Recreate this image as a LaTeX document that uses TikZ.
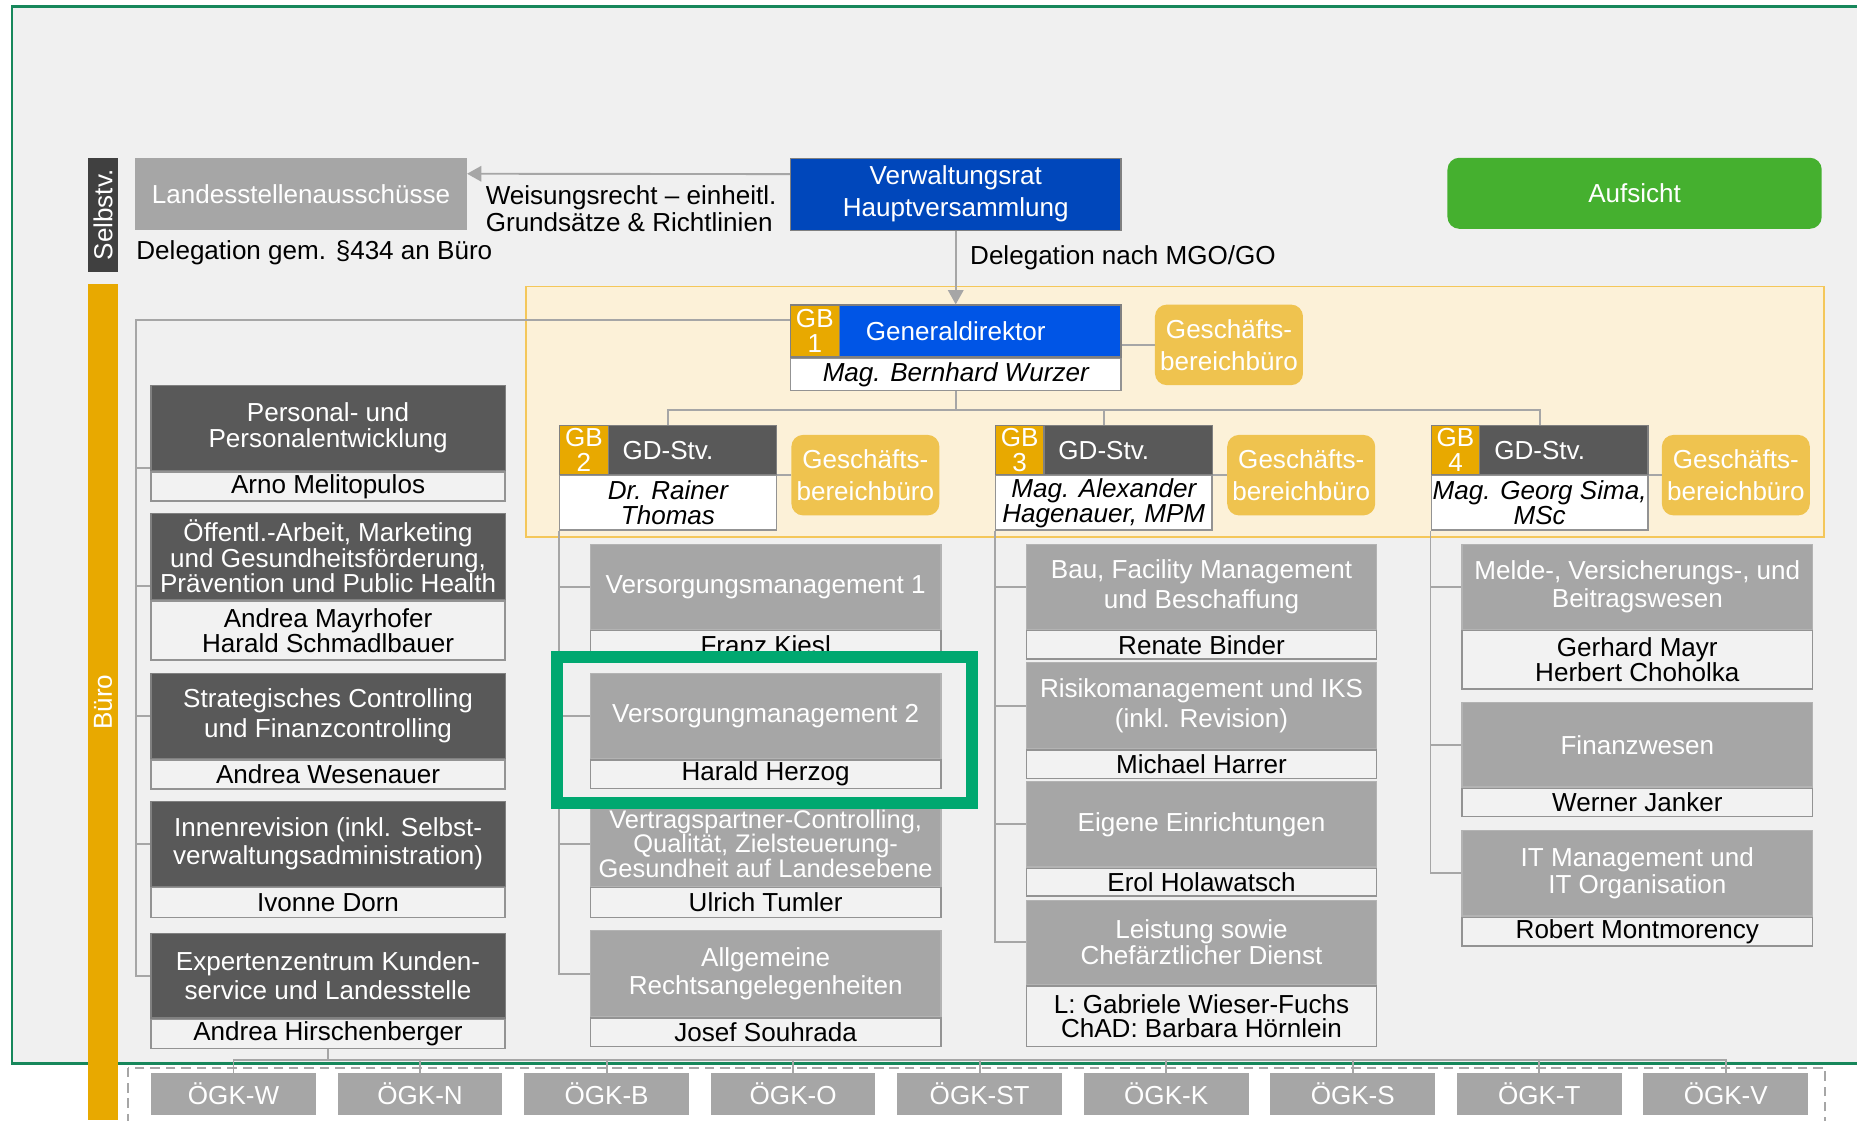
\documentclass[tikz,border=0pt]{standalone}
\usepackage{fontspec}
\setmainfont{Liberation Sans}
\usetikzlibrary{arrows.meta}

\definecolor{bgray}{HTML}{F0F0F0}
\definecolor{framegreen}{HTML}{17875B}
\definecolor{darkbox}{HTML}{595959}
\definecolor{midbox}{HTML}{A6A6A6}
\definecolor{namefill}{HTML}{F2F2F2}
\definecolor{linegray}{HTML}{A6A6A6}
\definecolor{vrblue}{HTML}{0047BB}
\definecolor{gdblue}{HTML}{0055E6}
\definecolor{gborange}{HTML}{E8A900}
\definecolor{gbbyellow}{HTML}{EFC34F}
\definecolor{regionfill}{HTML}{FCF1D8}
\definecolor{regionline}{HTML}{F4C75A}
\definecolor{aufgreen}{HTML}{45B02F}
\definecolor{hlgreen}{HTML}{00A870}
\definecolor{selbgray}{HTML}{404040}

\newcommand{\setlead}[1]{\fontsize{22}{#1}\selectfont}

\begin{document}
\begin{tikzpicture}
    [%%%%%%%%%%%%%%%%%%%%%%%%%%%%%%
        x=1pt, y=-1pt,
        font=\setlead{23},
        conn/.style={draw=linegray, line width=1.6pt},
        arr/.style={conn, -{Triangle[length=12pt,width=13pt]}},
        box/.style={rectangle, anchor=north west, inner sep=0pt, align=center},
        head/.style={box, fill=darkbox, draw=gray, line width=1pt, text=white, minimum width=299pt, minimum height=72pt},
        sub/.style={box, fill=midbox, draw=midbox!85!white, line width=1pt, text=white, minimum width=296pt, minimum height=72pt},
        who/.style={box, anchor=north, fill=namefill, draw=gray!85, line width=1.2pt, minimum width=#1},
        gbsq/.style={box, fill=gborange, draw=gray, line width=1pt, text=white, minimum width=41pt, minimum height=41pt, font=\setlead{21}},
        gbhead/.style={box, fill=darkbox, draw=gray, line width=1pt, text=white, minimum width=183pt, minimum height=41pt},
        gbb/.style={box, fill=gbbyellow, rounded corners=10pt, text=white, minimum width=125pt, minimum height=68pt, font=\setlead{27}},
        oegk/.style={box, fill=midbox, text=white, minimum width=139pt, minimum height=35pt},
    ]%%%%%%%%%%%%%%%%%%%%%%%%%%%%%%
\useasboundingbox (0,0) rectangle (1568,946);
\clip (0,0) rectangle (1568,946);
\fill[white] (0,0) rectangle (1568,946);
\draw[fill=bgray, draw=framegreen, line width=2pt] (10,5.5) rectangle (1600,898);
\draw[fill=regionfill, draw=regionline, line width=1.2pt] (444,242) rectangle (1540,453.5);

% Selbstverwaltung und Buero
\node[fill=selbgray, rotate=90, text=white, inner sep=0pt, minimum width=97pt, minimum height=26pt] (selb) at (87,181.5) {Selbstv.};
\node[fill=gborange, rotate=90, text=white, inner sep=0pt, minimum width=706pt, minimum height=26pt] (buero) at (87,593) {Büro};

% top level
\node[box, fill=midbox, text=white, minimum width=280pt, minimum height=61pt] (lsa) at (114,133) {Landesstellenausschüsse};
\node[box, fill=vrblue, draw=gray, line width=1pt, text=white, minimum width=279pt, minimum height=61pt, font=\setlead{27}] (vr) at (667,133) {Verwaltungsrat\\Hauptversammlung};
\node[box, fill=aufgreen, rounded corners=10pt, text=white, minimum width=316pt, minimum height=60pt] (aufs) at (1222,133) {Aufsicht};
\node[anchor=west, inner sep=0pt, align=left] (weis) at (410,176.5) {Weisungsrecht – einheitl.\\Grundsätze \& Richtlinien};
\node[anchor=west, inner sep=0pt] (deleg) at (115,213) {Delegation gem. §434 an Büro};
\node[anchor=west, inner sep=0pt] (mgo) at (819,218) {Delegation nach MGO/GO};

% Generaldirektor
\node[box, fill=gdblue, draw=gray, line width=1pt, text=white, minimum width=279pt, minimum height=44pt] (gd) at (667,257) {Generaldirektor};
\node[gbsq, minimum height=44pt] (gb1) at (667,257) {GB\\1};
\node[who=279pt, fill=white, minimum height=27pt, font=\setlead{23}\itshape] (gd-n) at (gd.south) {Mag. Bernhard Wurzer};
\node[gbb] (gbb1) at (975,257) {Geschäfts-\\bereichbüro};

% GD-Stv.
\node[gbhead] (gb2) at (472,359) {GD-Stv.};
\node[gbsq] (gb2-sq) at (472,359) {GB\\2};
\node[who=183pt, fill=white, minimum height=46pt, font=\setlead{21}\itshape] (gb2-n) at (gb2.south) {Dr. Rainer\\Thomas};
\node[gbb] (gbb2) at (668,367) {Geschäfts-\\bereichbüro};

\node[gbhead] (gb3) at (840,359) {GD-Stv.};
\node[gbsq] (gb3-sq) at (840,359) {GB\\3};
\node[who=183pt, fill=white, minimum height=46pt, font=\setlead{21}\itshape] (gb3-n) at (gb3.south) {Mag. Alexander\\Hagenauer, MPM};
\node[gbb] (gbb3) at (1036,367) {Geschäfts-\\bereichbüro};

\node[gbhead] (gb4) at (1208,359) {GD-Stv.};
\node[gbsq] (gb4-sq) at (1208,359) {GB\\4};
\node[who=183pt, fill=white, minimum height=46pt, font=\setlead{21}\itshape] (gb4-n) at (gb4.south) {Mag. Georg Sima,\\MSc};
\node[gbb] (gbb4) at (1403,367) {Geschäfts-\\bereichbüro};

% Stabsstellen Buero
\node[head, font=\setlead{22}] (pers) at (127,325) {Personal- und\\Personalentwicklung};
\node[who=299pt, minimum height=24.5pt] (pers-n) at (pers.south) {Arno Melitopulos};
\node[head, minimum height=73pt, font=\setlead{20.5}] (oeff) at (127,433) {Öffentl.-Arbeit, Marketing\\und Gesundheitsförderung,\\Prävention und Public Health};
\node[who=299pt, minimum height=49.5pt, font=\setlead{20}] (oeff-n) at (oeff.south) {Andrea Mayrhofer\\Harald Schmadlbauer};
\node[head, font=\setlead{25}] (strat) at (127,568) {Strategisches Controlling\\und Finanzcontrolling};
\node[who=299pt, minimum height=24.5pt] (strat-n) at (strat.south) {Andrea Wesenauer};
\node[head, font=\setlead{24}] (innen) at (127,676) {Innenrevision (inkl. Selbst-\\verwaltungsadministration)};
\node[who=299pt, minimum height=25pt] (innen-n) at (innen.south) {Ivonne Dorn};
\node[head, minimum height=71pt, font=\setlead{24}] (exp) at (127,788) {Expertenzentrum Kunden-\\service und Landesstelle};
\node[who=299pt, minimum height=24.5pt] (exp-n) at (exp.south) {Andrea Hirschenberger};

% GB 2
\node[sub] (vm1) at (498,459) {Versorgungsmanagement 1};
\node[who=296pt, minimum height=24pt] (vm1-n) at (vm1.south) {Franz Kiesl};
\node[sub] (vm2) at (498,568) {Versorgungmanagement 2};
\node[who=296pt, minimum height=24pt] (vm2-n) at (vm2.south) {Harald Herzog};
\node[sub, font=\fontsize{21.5}{20.5}\selectfont] (vtr) at (498,676) {Vertragspartner-Controlling,\\Qualität, Zielsteuerung-\\Gesundheit auf Landesebene};
\node[who=296pt, minimum height=25pt] (vtr-n) at (vtr.south) {Ulrich Tumler};
\node[sub, minimum height=72.5pt] (allg) at (498,785.5) {Allgemeine\\Rechtsangelegenheiten};
\node[who=296pt, minimum height=24pt] (allg-n) at (allg.south) {Josef Souhrada};

% GB 3
\node[sub, font=\setlead{25}] (bau) at (866,459) {Bau, Facility Management\\und Beschaffung};
\node[who=296pt, minimum height=24pt] (bau-n) at (bau.south) {Renate Binder};
\node[sub, minimum height=72.5pt, font=\setlead{25}] (risk) at (866,559) {Risikomanagement und IKS\\(inkl. Revision)};
\node[who=296pt, minimum height=24pt] (risk-n) at (risk.south) {Michael Harrer};
\node[sub] (eig) at (866,659.5) {Eigene Einrichtungen};
\node[who=296pt, minimum height=23.5pt] (eig-n) at (eig.south) {Erol Holawatsch};
\node[sub, minimum height=71.5pt, font=\setlead{22}] (leist) at (866,759.5) {Leistung sowie\\Chefärztlicher Dienst};
\node[who=296pt, minimum height=51pt, font=\setlead{20}] (leist-n) at (leist.south) {L: Gabriele Wieser-Fuchs\\ChAD: Barbara Hörnlein};

% GB 4
\node[sub] (melde) at (1234,459) {Melde-, Versicherungs-, und\\Beitragswesen};
\node[who=296pt, minimum height=49pt, font=\setlead{20}] (melde-n) at (melde.south) {Gerhard Mayr\\Herbert Choholka};
\node[sub, minimum height=71pt] (fin) at (1234,593) {Finanzwesen};
\node[who=296pt, minimum height=24pt] (fin-n) at (fin.south) {Werner Janker};
\node[sub] (itm) at (1234,701) {IT Management und\\IT Organisation};
\node[who=296pt, minimum height=24pt] (itm-n) at (itm.south) {Robert Montmorency};

% Landesstellen
\draw[draw=linegray, line width=1.5pt, dash pattern=on 8pt off 5pt] (108,901.5) rectangle (1541,990);
\node[oegk] (oegk-w) at (127.5,906) {ÖGK-W};
\node[oegk] (oegk-n) at (285,906) {ÖGK-N};
\node[oegk] (oegk-b) at (442.5,906) {ÖGK-B};
\node[oegk] (oegk-o) at (600,906) {ÖGK-O};
\node[oegk] (oegk-st) at (757.5,906) {ÖGK-ST};
\node[oegk] (oegk-k) at (915,906) {ÖGK-K};
\node[oegk] (oegk-s) at (1072.5,906) {ÖGK-S};
\node[oegk] (oegk-t) at (1230,906) {ÖGK-T};
\node[oegk] (oegk-v) at (1387.5,906) {ÖGK-V};

% connectors
\draw[arr] ([yshift=17pt]vr.west) -- ([yshift=17pt]lsa.east);
\draw[arr] (vr.south) -- (gd.north);
\draw[conn] (gbb1.west) -- (gbb1.west -| gd.east);
\draw[conn] (gd-n.south) -- ++(0,16) coordinate (split);
\draw[conn] (gb2.north) |- (split) -| (gb4.north);
\draw[conn] (gb3.north) -- (gb3.north |- split);
\draw[conn] (gbb2.west) -- (gbb2.west -| gb2.east);
\draw[conn] (gbb3.west) -- (gbb3.west -| gb3.east);
\draw[conn] (gbb4.west) -- (gbb4.west -| gb4.east);

\draw[conn] ([yshift=9pt]gb1.west) -| ([xshift=-12pt]exp.west) -- (exp.west);
\draw[conn] ([xshift=-12pt,yshift=3pt]pers.south west) -- ([yshift=3pt]pers.south west);
\draw[conn] ([xshift=-12pt,yshift=12pt]oeff.south west) -- ([yshift=12pt]oeff.south west);
\draw[conn] ([xshift=-12pt]strat.west) -- (strat.west);
\draw[conn] ([xshift=-12pt]innen.west) -- (innen.west);

\draw[conn] (gb2-n.south west) |- (allg.west);
\draw[conn] (vm1.west -| gb2-n.west) -- (vm1.west);
\draw[conn] (vm2.west -| gb2-n.west) -- (vm2.west);
\draw[conn] (vtr.west -| gb2-n.west) -- (vtr.west);

\draw[conn] (gb3-n.south west) |- (leist.west);
\draw[conn] (bau.west -| gb3-n.west) -- (bau.west);
\draw[conn] (risk.west -| gb3-n.west) -- (risk.west);
\draw[conn] (eig.west -| gb3-n.west) -- (eig.west);

\draw[conn] (gb4-n.south west) |- (itm.west);
\draw[conn] (melde.west -| gb4-n.west) -- (melde.west);
\draw[conn] (fin.west -| gb4-n.west) -- (fin.west);

\coordinate (obus) at ([yshift=11pt]oegk-w.north);
\draw[conn] (exp-n.south) -- (exp-n.south |- obus);
\draw[conn] (oegk-w.north) -- (obus) -| (oegk-v.north);
\draw[conn] (oegk-n.north) -- (oegk-n.north |- obus)
            (oegk-b.north) -- (oegk-b.north |- obus)
            (oegk-o.north) -- (oegk-o.north |- obus)
            (oegk-st.north) -- (oegk-st.north |- obus)
            (oegk-k.north) -- (oegk-k.north |- obus)
            (oegk-s.north) -- (oegk-s.north |- obus)
            (oegk-t.north) -- (oegk-t.north |- obus);

% highlight
\draw[draw=hlgreen, line width=10pt] (470.5,555) rectangle (820.5,678);
\end{tikzpicture}
\end{document}
